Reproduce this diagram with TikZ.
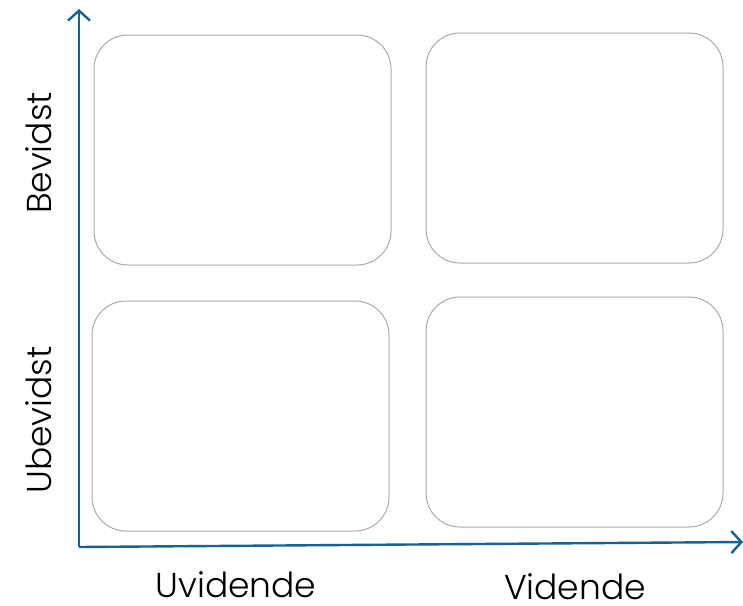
\documentclass[tikz,border=0pt]{standalone}
\usepackage{fontspec}
\setmainfont{Poppins}[UprightFont={* Light}]
\usetikzlibrary{arrows.meta}
\definecolor{axisblue}{RGB}{22,98,148}
\definecolor{boxgray}{RGB}{170,170,170}
\tikzset{
  axis/.style={draw=axisblue, line width=2.4pt, -{Straight Barb[length=10pt,width=22pt,line width=2.4pt]}},
  quad/.style={draw=boxgray, line width=1pt, rounded corners=34pt},
  lbl/.style={font=\fontsize{34.5}{40}\selectfont, text=black, inner sep=0pt, anchor=base, text depth=0pt},
}
\begin{document}
\begin{tikzpicture}[x=1pt,y=-1pt]
\useasboundingbox (0,0) rectangle (743,605);
\coordinate (o) at (79,547);
\coordinate (ytip) at (79,9);
\coordinate (xtip) at (743,542);
\draw[axis] (o) -- (ytip);
\draw[axis] (o) -- (xtip);
\path[quad] (94,35) rectangle (391,265);
\path[quad] (426,33) rectangle (723,263);
\path[quad] (92,301) rectangle (389,531);
\path[quad] (426,297) rectangle (723,527);
\node[lbl, rotate=90] (bev) at (51,153) {Bevidst};
\node[lbl, rotate=90] (ubev) at (51,420) {Ubevidst};
\node[lbl] (uvid) at (236,597) {Uvidende};
\node[lbl] (vid) at (575,599) {Vidende};
\end{tikzpicture}
\end{document}
